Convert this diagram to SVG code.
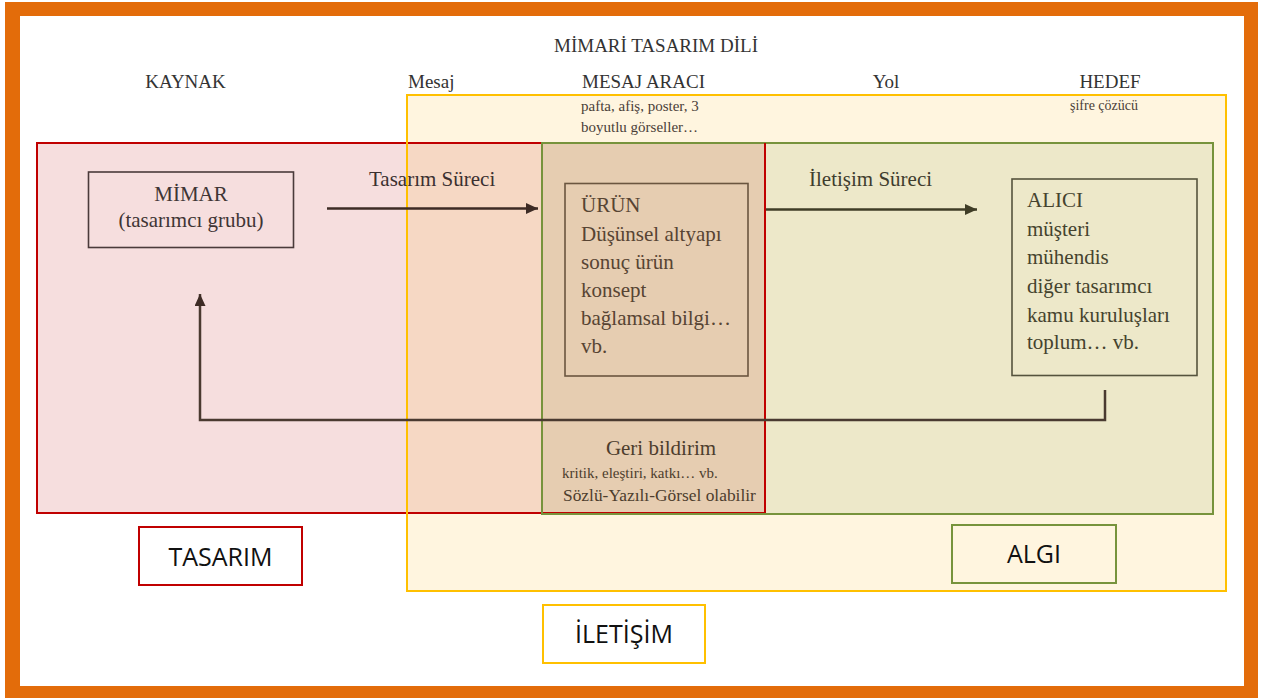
<svg xmlns="http://www.w3.org/2000/svg" width="1264" height="698" viewBox="0 0 1264 698">
  <style>
    .serif { font-family: "Liberation Serif", "Times New Roman", serif; }
    .head { font-size: 19px; fill: #333333; }
    .small { font-size: 15px; fill: #4a4038; }
    .body { font-size: 21px; }
    .label { font-family: "Open Sans", "Noto Sans", sans-serif; font-size: 25px; fill: #111111; text-anchor: middle; }
    .box { fill: none; stroke-width: 1.6; }
    .conn { fill: none; stroke-width: 2.5; }
  </style>
  <defs>
    <marker id="arrowBrown" markerWidth="12" markerHeight="11" refX="12" refY="5.5" orient="auto" markerUnits="userSpaceOnUse">
      <path d="M0,0 L12,5.5 L0,11 Z" fill="#3d2b25"/>
    </marker>
    <marker id="arrowOlive" markerWidth="12" markerHeight="11" refX="12" refY="5.5" orient="auto" markerUnits="userSpaceOnUse">
      <path d="M0,0 L12,5.5 L0,11 Z" fill="#3f3d26"/>
    </marker>
  </defs>

  <!-- page and orange frame -->
  <rect x="0" y="0" width="1264" height="698" fill="#ffffff"/>
  <rect x="5" y="2" width="1253" height="696" fill="#e36c0a"/>
  <rect x="20" y="16" width="1224" height="670" fill="#ffffff"/>

  <!-- headings -->
  <g id="headings" class="serif head">
    <text x="656" y="52" text-anchor="middle">MİMARİ TASARIM DİLİ</text>
    <text x="185.5" y="88" text-anchor="middle">KAYNAK</text>
    <text x="408" y="88">Mesaj</text>
    <text x="643.5" y="88" text-anchor="middle">MESAJ ARACI</text>
    <text x="886" y="88" text-anchor="middle">Yol</text>
    <text x="1110" y="88" text-anchor="middle">HEDEF</text>
  </g>

  <!-- overlapping areas: İLETİŞİM (yellow), TASARIM (red), ALGI (green) -->
  <g id="areas">
    <rect x="407" y="95" width="819" height="496" fill="#fff5df"/>
    <rect x="37" y="143" width="728" height="370" fill="#f6dede"/>
    <rect x="407" y="143" width="358" height="370" fill="#f6d8c4"/>
    <rect x="542" y="143" width="671" height="371" fill="#ede8c9"/>
    <rect x="542" y="143" width="223" height="370" fill="#e6cdb1"/>
    <rect x="37" y="143" width="728" height="370" fill="none" stroke="#c00000" stroke-width="2"/>
    <rect x="407" y="95" width="819" height="496" fill="none" stroke="#ffc000" stroke-width="2"/>
    <rect x="542" y="143" width="671" height="371" fill="none" stroke="#77933c" stroke-width="2"/>
    <line x1="765" y1="143" x2="765" y2="513" stroke="#c00000" stroke-width="2"/>
  </g>

  <!-- message medium notes -->
  <g id="medium-notes" class="serif small">
    <text x="581" y="111">pafta, afiş, poster, 3</text>
    <text x="581" y="132">boyutlu görseller…</text>
    <text x="1104" y="110" text-anchor="middle" font-size="14">şifre çözücü</text>
  </g>

  <!-- connectors -->
  <g id="connectors">
    <line class="conn" x1="327" y1="208.5" x2="538" y2="208.5" stroke="#3d2b25" marker-end="url(#arrowBrown)"/>
    <line class="conn" x1="766" y1="209.5" x2="977" y2="209.5" stroke="#3f3d26" marker-end="url(#arrowOlive)"/>
    <path class="conn" d="M1105,390 V420 H200 V294" stroke="#4a3a30" marker-end="url(#arrowBrown)"/>
    <text class="serif body" x="369" y="186" fill="#3b3030">Tasarım Süreci</text>
    <text class="serif body" x="809" y="186" fill="#3f3d2e">İletişim Süreci</text>
  </g>

  <!-- source: architect -->
  <g id="mimar">
    <rect class="box" x="88.5" y="172" width="205" height="75.5" stroke="#4a3a3a"/>
    <text class="serif body" x="191" y="201" text-anchor="middle" fill="#3f3535">MİMAR</text>
    <text class="serif body" x="191" y="227" text-anchor="middle" fill="#3f3535">(tasarımcı grubu)</text>
  </g>

  <!-- message: product -->
  <g id="urun" class="serif body" fill="#574433">
    <rect class="box" x="565" y="183.5" width="183" height="192.5" stroke="#6b5640"/>
    <text x="581" y="212">ÜRÜN</text>
    <text x="581" y="241">Düşünsel altyapı</text>
    <text x="581" y="269">sonuç ürün</text>
    <text x="581" y="297">konsept</text>
    <text x="581" y="325">bağlamsal bilgi…</text>
    <text x="581" y="353">vb.</text>
  </g>

  <!-- target: receiver -->
  <g id="alici" class="serif body" fill="#45432e">
    <rect class="box" x="1012" y="179" width="185" height="196.5" stroke="#55533d"/>
    <text x="1027" y="207">ALICI</text>
    <text x="1027" y="236">müşteri</text>
    <text x="1027" y="264">mühendis</text>
    <text x="1027" y="293">diğer tasarımcı</text>
    <text x="1027" y="322">kamu kuruluşları</text>
    <text x="1027" y="349">toplum… vb.</text>
  </g>

  <!-- feedback -->
  <g id="geri-bildirim" class="serif" fill="#4d3d2d">
    <text x="661" y="455" font-size="21" text-anchor="middle">Geri bildirim</text>
    <text x="562" y="478" font-size="15">kritik, eleştiri, katkı… vb.</text>
    <text x="563" y="501" font-size="17.4">Sözlü-Yazılı-Görsel olabilir</text>
  </g>

  <!-- area labels -->
  <g id="label-tasarim">
    <rect x="139" y="527" width="163" height="58" fill="#ffffff" stroke="#c00000" stroke-width="2"/>
    <text class="label" x="220.5" y="566">TASARIM</text>
  </g>
  <g id="label-iletisim">
    <rect x="543" y="605" width="162" height="58" fill="#ffffff" stroke="#ffc000" stroke-width="2"/>
    <text class="label" x="624" y="643">İLETİŞİM</text>
  </g>
  <g id="label-algi">
    <rect x="952" y="525" width="164" height="58" fill="#fff5df" stroke="#77933c" stroke-width="2"/>
    <text class="label" x="1034" y="563">ALGI</text>
  </g>
</svg>
